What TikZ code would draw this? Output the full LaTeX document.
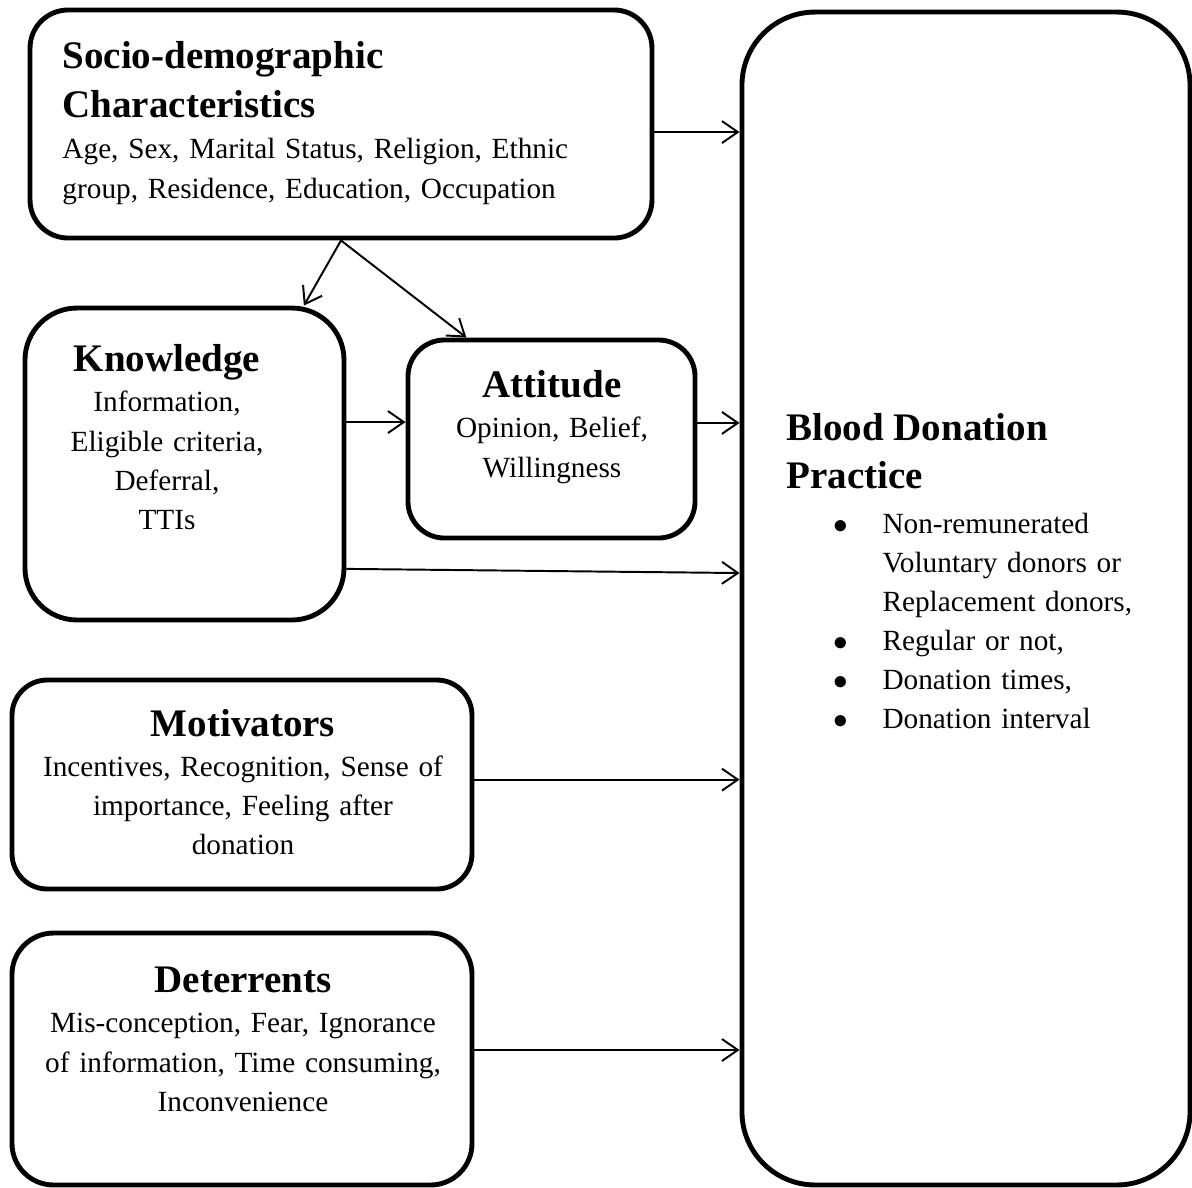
\documentclass[tikz,border=0pt]{standalone}
\usepackage{fontspec}
\setmainfont{Liberation Serif}
\usepackage{tikz}
\usetikzlibrary{arrows.meta,positioning}

\newcommand{\hd}[1]{{\fontsize{16}{16}\selectfont\bfseries #1}}
\newcommand{\bitem}{\makebox[39.4pt][l]{\hspace*{19.4pt}$\bullet$}}
\newcommand{\bcont}{\hspace*{39.4pt}}

\begin{document}
\begin{tikzpicture}[x=0.41pt, y=-0.41pt,
  box/.style={draw=black, line width=2pt, rounded corners=#1, inner sep=0pt},
  box/.default=15pt,
  txt/.style={inner sep=0pt, font=\fontsize{12}{16}\selectfont, text width=#1},
  arr/.style={-{Straight Barb[length=6.5pt,width=9pt]}, line width=0.8pt}]
\useasboundingbox (0,0) rectangle (1192,1187);

\node[box=15.6pt, minimum width=255pt, minimum height=93.5pt] (socio) at (341,124) {};
\node[box=21.3pt, minimum width=130.8pt, minimum height=127.9pt] (knowledge) at (184.5,464) {};
\node[box=15pt, minimum width=117.7pt, minimum height=81.2pt] (attitude) at (551.5,439) {};
\node[box=14.5pt, minimum width=188.6pt, minimum height=85.7pt] (motivators) at (242,784.5) {};
\node[box=17pt, minimum width=188.6pt, minimum height=103.3pt] (deterrents) at (242,1059) {};
\node[box=30pt, minimum width=183.7pt, minimum height=480.9pt] (blood) at (966,598.5) {};

\node[txt=240pt, align=left, anchor=base west] (sociotxt) at (62,68)
  {\hd{Socio-demographic}\\[4.1pt]\hd{Characteristics}\\[1.2pt]
   Age, Sex, Marital Status, Religion, Ethnic\\group, Residence, Education, Occupation};
\node[txt=120pt, align=center, anchor=base] (knowledgetxt) at (167,371)
  {\hd{Knowledge}\\[0.8pt]Information,\\Eligible criteria,\\Deferral,\\TTIs};
\node[txt=110pt, align=center, anchor=base] (attitudetxt) at (552,397)
  {\hd{Attitude}\\[0.8pt]Opinion, Belief,\\Willingness};
\node[txt=180pt, align=center, anchor=base] (motivatorstxt) at (243,736)
  {\hd{Motivators}\\[0.4pt]Incentives, Recognition, Sense of\\importance, Feeling after\\donation};
\node[txt=180pt, align=center, anchor=base] (deterrentstxt) at (243,992)
  {\hd{Deterrents}\\[0.8pt]Mis-conception, Fear, Ignorance\\of information, Time consuming,\\Inconvenience};
\node[txt=165pt, align=left, anchor=base west] (bloodtxt) at (786,440)
  {\hd{Blood Donation}\\[3.7pt]\hd{Practice}\\[2.5pt]
   \bitem Non-remunerated\\\bcont Voluntary donors or\\\bcont Replacement donors,\\
   \bitem Regular or not,\\\bitem Donation times,\\\bitem Donation interval};

\draw[arr] ([yshift=-3.3pt]socio.east) -- ([yshift=-3.3pt]socio.east -| blood.west);
\draw[arr] (socio.south) -- (knowledge.53);
\draw[arr] (socio.south) -- (attitude.130);
\draw[arr] ([yshift=17.2pt]knowledge.east) -- ([yshift=17.2pt]knowledge.east -| attitude.west);
\draw[arr] ([yshift=6.6pt]attitude.east) -- ([yshift=6.6pt]attitude.east -| blood.west);
\draw[arr] ([yshift=-43pt]knowledge.east) -- ([yshift=-44.7pt]knowledge.east -| blood.west);
\draw[arr] ([yshift=2pt]motivators.east) -- ([yshift=2pt]motivators.east -| blood.west);
\draw[arr] ([yshift=3.7pt]deterrents.east) -- ([yshift=3.7pt]deterrents.east -| blood.west);
\end{tikzpicture}
\end{document}
